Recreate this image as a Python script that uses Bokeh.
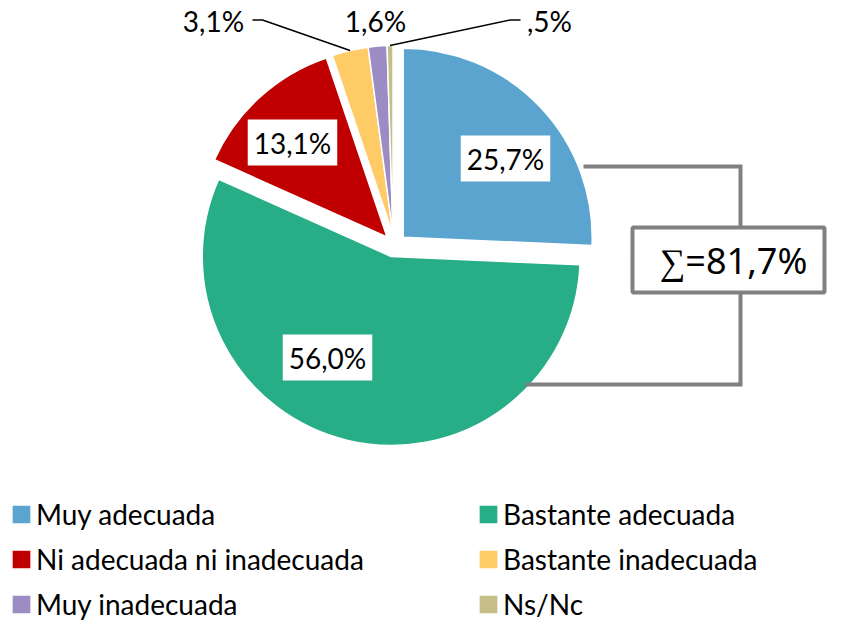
import numpy as np
from bokeh.plotting import figure
from bokeh.models import ColumnDataSource, Legend, LegendItem, Range1d
from bokeh.core.properties import value
from bokeh.embed import file_html
from bokeh.resources import INLINE

# ---------------- data ----------------
categories = ["Muy adecuada", "Bastante adecuada", "Ni adecuada ni inadecuada",
              "Bastante inadecuada", "Muy inadecuada", "Ns/Nc"]
values = [25.7, 56.0, 13.1, 3.1, 1.6, 0.5]
sum_indices = [0, 1]          # slices added up in the bracket box

# ---------------- style / layout ----------------
colors = ["#5BA4CF", "#27AE87", "#C00000", "#FFCB67", "#9B8DC4", "#C5BE88"]
W, H = 827, 621
PAGE_H = 637
R = 189
# centre of each (exploded) slice, picture pixels
slice_centers = [(402.7, 236.7), (390.7, 256.0), (386.5, 236.5),
                 (392.5, 234.0), (392.5, 234.0), (392.5, 234.0)]
# data-label positions, picture pixels
label_pos = [(505, 158), (327, 357), (292, 142), (213, 20), (375, 20), (549, 20)]
inside = [True, True, True, False, False, False]
# leader lines: slice index -> start point and elbow (picture px)
leaders = {3: [(252, 19.5), (262, 19.5)], 5: [(520, 19.5), (510, 19.5)]}
GRAY = "#808080"
FONT = "Lato"


def X(px):
    return px


def Y(py):
    return PAGE_H - py


def fmt(v):
    s = f"{v:.1f}".replace(".", ",")
    if s.startswith("0,"):
        s = s[1:]
    return s + "%"


p = figure(width=W, height=H, x_range=Range1d(0, W), y_range=Range1d(PAGE_H - H, PAGE_H),
           output_backend="svg", toolbar_location=None, min_border=0,
           x_axis_location=None, y_axis_location=None)
p.grid.visible = False
p.outline_line_color = None
p.background_fill_color = "white"
p.border_fill_color = "white"

# ---------------- wedges ----------------
vals = np.array(values, dtype=float)
cum = np.concatenate([[0], np.cumsum(vals)]) / vals.sum()
start = np.pi / 2 - 2 * np.pi * cum[:-1]
end = np.pi / 2 - 2 * np.pi * cum[1:]
wsrc = ColumnDataSource(dict(
    x=[X(c[0]) for c in slice_centers], y=[Y(c[1]) for c in slice_centers],
    start=start, end=end, color=colors, cat=categories))
wr = p.wedge(x="x", y="y", radius=R, start_angle="start", end_angle="end", direction="clock",
             fill_color="color", line_color="white", line_width=1.5, source=wsrc)

# ---------------- leader lines ----------------
lx, ly = [], []
for i, pts in leaders.items():
    mid = (start[i] + end[i]) / 2
    cx, cy = X(slice_centers[i][0]), Y(slice_centers[i][1])
    ex, ey = cx + R * np.cos(mid), cy + R * np.sin(mid)
    lx.append([X(pts[0][0]), X(pts[1][0]), ex])
    ly.append([Y(pts[0][1]), Y(pts[1][1]), ey])
p.multi_line(lx, ly, line_color="black", line_width=1.5)

# ---------------- data labels ----------------
lab_in = [i for i in range(len(values)) if inside[i]]
lab_out = [i for i in range(len(values)) if not inside[i]]
p.text(x=[X(label_pos[i][0]) for i in lab_in], y=[Y(label_pos[i][1]) for i in lab_in],
       text=[fmt(values[i]) for i in lab_in], text_align="center", text_baseline="middle",
       text_font=value(FONT), text_font_size="28px", text_color="black",
       background_fill_color="white", padding=6)
p.text(x=[X(label_pos[i][0]) for i in lab_out], y=[Y(label_pos[i][1]) for i in lab_out],
       text=[fmt(values[i]) for i in lab_out], text_align="center", text_baseline="middle",
       text_font=value(FONT), text_font_size="28px", text_color="black")

# ---------------- bracket + sum box ----------------
bx = [[X(583), X(740), X(740)], [X(740), X(740), X(525)]]
by = [[Y(166), Y(166), Y(227)], [Y(292), Y(384), Y(384)]]
p.multi_line(bx, by, line_color=GRAY, line_width=4, line_join="miter")
box_l, box_r, box_t, box_b = 632, 824, 227, 292
p.rect(x=[X((box_l + box_r) / 2)], y=[Y((box_t + box_b) / 2)], width=box_r - box_l,
       height=box_b - box_t, fill_color="white", line_color=GRAY, line_width=4)
total = sum(values[i] for i in sum_indices)
p.text(x=[X(733)], y=[Y(260)], text=["\u2211=" + fmt(total)], text_align="center",
       text_baseline="middle", text_font=value("Noto Sans"), text_font_size="36px",
       text_color="black")

# ---------------- legend ----------------
items = [LegendItem(label=categories[i], renderers=[wr], index=i) for i in range(len(categories))]
common = dict(glyph_width=24, glyph_height=24, label_text_font=FONT, label_text_font_size="28px",
              label_standoff=3, spacing=11, padding=0, margin=0, border_line_color=None,
              background_fill_alpha=0, label_text_color="black")
leg1 = Legend(items=[items[0], items[2], items[4]], location=(9, 0), **common)
leg2 = Legend(items=[items[1], items[3], items[5]], location=(476, 0), **common)
p.add_layout(leg1)
p.add_layout(leg2)

open("out.html", "w").write(file_html(p, INLINE))
